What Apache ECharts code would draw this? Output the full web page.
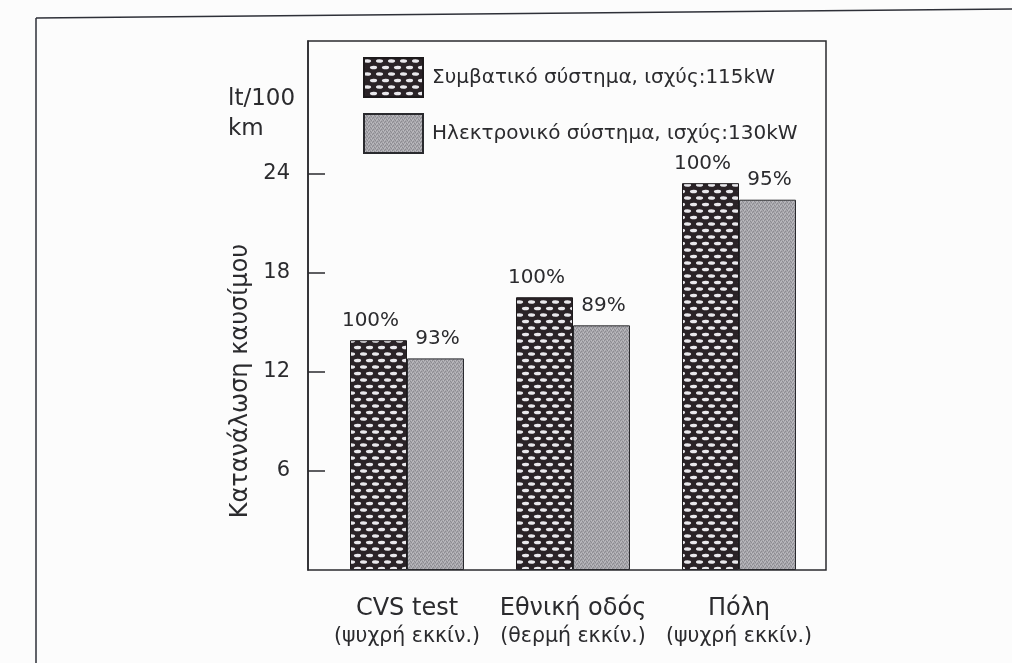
<!DOCTYPE html>
<html>
<head>
<meta charset="utf-8">
<script src="https://cdn.jsdelivr.net/npm/echarts@6/dist/echarts.min.js"></script>
<style>
html,body{margin:0;padding:0;background:#fcfcfc;}
#chart{width:1012px;height:663px;}
</style>
</head>
<body>
<div id="chart"></div>
<script>
// ---- data ----
const categories = ['CVS test', 'Εθνική οδός', 'Πόλη'];
const subCategories = ['(ψυχρή εκκίν.)', '(θερμή εκκίν.)', '(ψυχρή εκκίν.)'];
const seriesNames = ['Συμβατικό σύστημα, ισχύς:115kW', 'Ηλεκτρονικό σύστημα, ισχύς:130kW'];
const conventional = [13.9, 16.5, 23.4];
const electronic = [12.8, 14.8, 22.4];
const conventionalPct = ['100%', '100%', '100%'];
const electronicPct = ['93%', '89%', '95%'];
const tickValues = [6, 12, 18, 24];
const yUnit = 'lt/100\nkm';
const yTitle = 'Κατανάλωση καυσίμου';

const FONT = 'DejaVu Sans';
const TXT = '#2b2b2e';

// fill textures (styles only)
function hatchTile() {
  const c = document.createElement('canvas');
  c.width = 12; c.height = 13;
  const g = c.getContext('2d');
  g.fillStyle = '#2a2327';
  g.fillRect(0, 0, 12, 13);
  g.fillStyle = '#e9e8ec';
  const holes = [[3.5, 3], [9.5, 9.5], [-2.5, 9.5]];
  holes.forEach(function (h) {
    g.beginPath();
    g.ellipse(h[0], h[1], 3.6, 1.8, 0, 0, Math.PI * 2);
    g.fill();
  });
  return c;
}
function stippleTile() {
  const c = document.createElement('canvas');
  c.width = 4; c.height = 4;
  const g = c.getContext('2d');
  g.fillStyle = '#a7a6ab';
  g.fillRect(0, 0, 4, 4);
  g.fillStyle = '#8c8b91';
  g.fillRect(0, 0, 1, 1); g.fillRect(2, 1, 1, 1); g.fillRect(1, 3, 1, 1); g.fillRect(3, 2, 1, 1);
  g.fillStyle = '#bdbcc1';
  g.fillRect(1, 1, 1, 1); g.fillRect(3, 0, 1, 1); g.fillRect(0, 2, 1, 1);
  return c;
}

const chart = echarts.init(document.getElementById('chart'), null, {renderer: 'canvas'});

const option = {
  backgroundColor: '#fcfcfc',
  textStyle: {fontFamily: FONT, color: TXT},
  animation: false,
  legend: {
    orient: 'vertical',
    left: 358, top: 52,
    itemWidth: 59, itemHeight: 39, itemGap: 15,
    icon: 'rect',
    textStyle: {fontFamily: FONT, fontSize: 20, color: TXT, padding: [0, 0, 0, 4]},
    data: seriesNames
  },
  grid: {left: 324, right: 190, top: 41, bottom: 93, containLabel: false},
  xAxis: {
    type: 'category',
    data: categories,
    axisLine: {show: false},
    axisTick: {show: false},
    axisLabel: {
      margin: 25,
      formatter: function (v, i) { return '{a|' + v + '}\n{b|' + subCategories[i] + '}'; },
      rich: {
        a: {fontFamily: FONT, fontSize: 24, lineHeight: 28, color: TXT},
        b: {fontFamily: FONT, fontSize: 20.5, lineHeight: 27, color: TXT}
      }
    }
  },
  yAxis: {
    type: 'value',
    min: 0, max: 32,
    offset: 16,
    splitLine: {show: false},
    axisLine: {show: true, lineStyle: {color: '#2a2a2e', width: 1.5}},
    axisTick: {show: true, inside: true, length: 17, customValues: tickValues,
               lineStyle: {color: '#2a2a2e', width: 1.5}},
    axisLabel: {margin: 18, fontFamily: FONT, fontSize: 21, color: TXT, customValues: tickValues}
  },
  graphic: [
    {type: 'line', z: 100, shape: {x1: 36, y1: 18, x2: 1012, y2: 9},
     style: {stroke: '#2e3038', lineWidth: 1.5}},
    {type: 'line', z: 100, shape: {x1: 36, y1: 18, x2: 36, y2: 663},
     style: {stroke: '#2e3038', lineWidth: 1.5}},
    {type: 'rect', z: 100, shape: {x: 308, y: 41, width: 518, height: 529},
     style: {fill: null, stroke: '#2a2a2e', lineWidth: 1.5}},
    {type: 'text', left: 228, top: 84,
     style: {text: yUnit, font: '23px "DejaVu Sans"', fill: TXT, lineHeight: 30}},
    {type: 'text', x: 241, y: 381, rotation: Math.PI / 2,
     style: {text: yTitle, font: '24px "DejaVu Sans"', fill: TXT, align: 'center', verticalAlign: 'middle'}}
  ],
  series: [
    {
      name: seriesNames[0],
      type: 'bar',
      data: conventional,
      barWidth: 57,
      barGap: '0%',
      itemStyle: {
        color: {image: hatchTile(), repeat: 'repeat'},
        borderColor: '#1d1a1c', borderWidth: 1
      },
      label: {
        show: true, position: 'top', distance: 9, offset: [-8, 0],
        formatter: function (p) { return conventionalPct[p.dataIndex]; },
        fontFamily: FONT, fontSize: 20, color: TXT
      }
    },
    {
      name: seriesNames[1],
      type: 'bar',
      data: electronic,
      barWidth: 57,
      itemStyle: {
        color: {image: stippleTile(), repeat: 'repeat'},
        borderColor: '#2a2a2e', borderWidth: 1
      },
      label: {
        show: true, position: 'top', distance: 10, offset: [2, 0],
        formatter: function (p) { return electronicPct[p.dataIndex]; },
        fontFamily: FONT, fontSize: 20, color: TXT
      }
    }
  ]
};
chart.setOption(option);
</script>
</body>
</html>
